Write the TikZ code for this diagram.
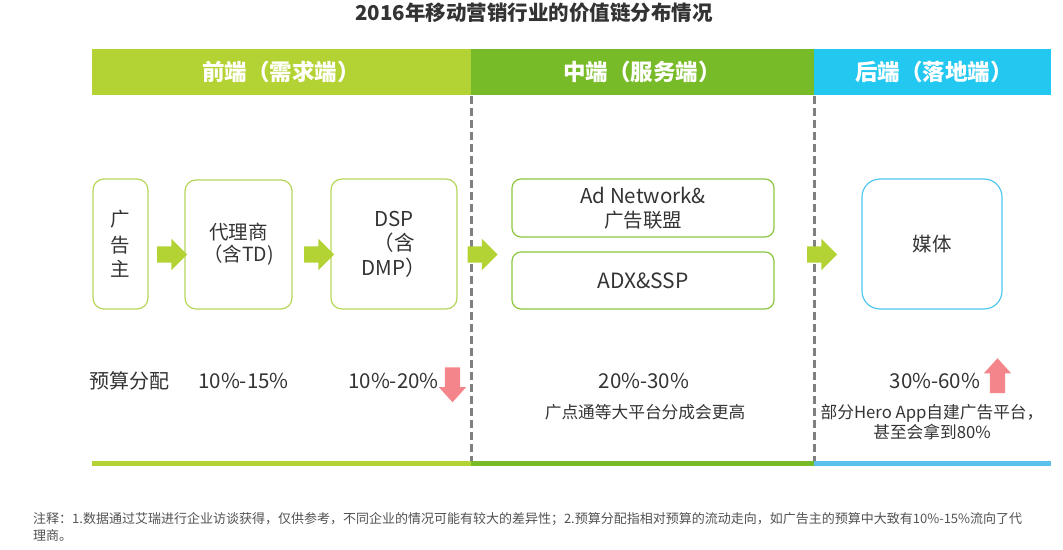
\documentclass[tikz,border=0pt]{standalone}
\usepackage{fontspec}
\setmainfont{Noto Sans CJK SC}
\usetikzlibrary{shapes.arrows}
\definecolor{lgreen}{HTML}{B3D334}
\definecolor{dgreen}{HTML}{78BB28}
\definecolor{cyanb}{HTML}{22C8F0}
\definecolor{lblue}{HTML}{5BC0EB}
\definecolor{boxg}{HTML}{B5D65A}
\definecolor{boxg2}{HTML}{8CC63F}
\definecolor{boxb}{HTML}{4FC8F0}
\definecolor{pinkc}{HTML}{F4858A}
\definecolor{txt}{HTML}{333333}
\definecolor{dashc}{HTML}{808080}
\tikzset{
  hdr/.style={font=\fontsize{22.5}{26}\selectfont\bfseries, text=white},
  rbox/.style={draw=boxg, line width=1.2pt, rounded corners=11pt, text=txt, align=center, inner sep=0pt, font=\fontsize{19.5}{22}\selectfont},
  garrow/.style={single arrow, fill=lgreen, draw=none, inner sep=8pt, minimum height=30pt, single arrow head extend=7.5pt, single arrow tip angle=90},
  parrow/.style={single arrow, fill=pinkc, draw=none, inner sep=7.5pt, minimum height=35pt, single arrow head extend=6pt, single arrow tip angle=84},
  lbl/.style={text=txt, font=\fontsize{20}{23}\selectfont},
  sub/.style={text=txt, font=\fontsize{16.7}{21}\selectfont, align=center},
  dline/.style={dashc, line width=3pt, dash pattern=on 8pt off 4pt},
}
\begin{document}
\begin{tikzpicture}[x=1pt,y=-1pt]
\useasboundingbox (0,0) rectangle (1063,549);
% title
\node[text=txt, font=\fontsize{20.5}{24}\selectfont\bfseries] (title) at (534,12.5) {2016年移动营销行业的价值链分布情况};
% header bars
\fill[lgreen] (92,49) rectangle (471,95);
\fill[dgreen] (471,49) rectangle (814,95);
\fill[cyanb] (814,49) rectangle (1051,95);
\node[hdr] (h1) at (281,72) {前端（需求端）};
\node[hdr] (h2) at (642,72) {中端（服务端）};
\node[hdr] (h3) at (934,72) {后端（落地端）};
% dashed separators
\draw[dline] (471,96) -- (471,461);
\draw[dline] (814,96) -- (814,461);
% boxes
\node[rbox, minimum width=55pt, minimum height=130pt] (adv) at (120.5,244) {广\\[4pt]告\\[2pt]主};
\node[rbox, minimum width=107pt, minimum height=129pt] (agency) at (238.5,244.5) {代理商\\（含TD)};
\node[rbox, minimum width=126pt, minimum height=130pt, font=\fontsize{20.5}{24.5}\selectfont] (dsp) at (394,244) {DSP\\（含\\DMP）};
\node[rbox, draw=boxg2, minimum width=262pt, minimum height=58pt, rounded corners=9pt, font=\fontsize{20.5}{24}\selectfont] (adn) at (643,208) {Ad Network\&\\{\fontsize{19.5}{22}\selectfont 广告联盟}};
\node[rbox, draw=boxg2, minimum width=262pt, minimum height=57pt, rounded corners=9pt, font=\fontsize{21}{24}\selectfont] (adx) at (643,280.5) {ADX\&SSP};
\node[rbox, draw=boxb, minimum width=140pt, minimum height=130pt, rounded corners=18pt] (media) at (932,244) {媒体};
% flow arrows
\node[garrow] (a1) at (168,254.5) {};
\node[garrow] (a2) at (315,254.5) {};
\node[garrow] (a3) at (478.5,254.5) {};
\node[garrow] (a4) at (818,254.5) {};
% budget row
\node[lbl] (bud) at (129.5,381) {预算分配};
\node[lbl, font=\fontsize{20.5}{23}\selectfont] (p1) at (243.5,381) {10\%-15\%};
\node[lbl, font=\fontsize{20.5}{23}\selectfont] (p2) at (393.5,381) {10\%-20\%};
\node[lbl, font=\fontsize{20.5}{23}\selectfont] (p3) at (644,381) {20\%-30\%};
\node[lbl, font=\fontsize{20.5}{23}\selectfont] (p4) at (935,381) {30\%-60\%};
\node[parrow, shape border rotate=270] (down) at (452.5,380.5) {};
\node[parrow, shape border rotate=90] (up) at (997.5,380) {};
\node[sub] (n3) at (645,412) {广点通等大平台分成会更高};
\node[sub, font=\fontsize{16.7}{20}\selectfont] (n4) at (932,422) {部分Hero App自建广告平台，\\甚至会拿到80\%};
% bottom bars
\fill[lgreen] (92,461) rectangle (471,466);
\fill[dgreen] (471,461) rectangle (814,466);
\fill[lblue] (814,461) rectangle (1051,466);
% note
\node[anchor=north west, text=txt!85, font=\fontsize{13}{17}\selectfont, align=left, inner sep=0pt] (note) at (33,512.5) {注释：1.数据通过艾瑞进行企业访谈获得，仅供参考，不同企业的情况可能有较大的差异性；2.预算分配指相对预算的流动走向，如广告主的预算中大致有10\%-15\%流向了代\\理商。};
\end{tikzpicture}
\end{document}
